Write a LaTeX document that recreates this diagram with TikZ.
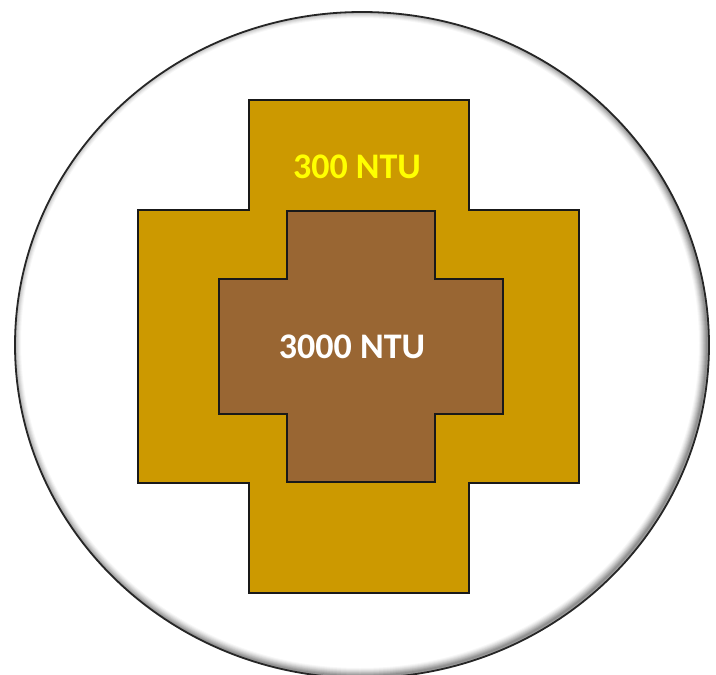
\documentclass[tikz,border=0pt]{standalone}
\usepackage{fontspec}
\setmainfont{Carlito}
\definecolor{gold}{HTML}{CC9900}
\definecolor{brownin}{HTML}{996633}
\definecolor{txtyellow}{HTML}{FFFF00}
\begin{document}
\begin{tikzpicture}[x=1pt,y=-1pt,
  crossline/.style={draw=black!90,line width=1.4pt,line join=miter},
  lbl/.style={font=\fontsize{36}{40}\selectfont\bfseries,inner sep=0pt}]
\useasboundingbox (0,0) rectangle (716,675);
\fill[white] (0,0) rectangle (716,675);
% dish
\fill[white] (362,345) ellipse [x radius=347, y radius=333];
\begin{scope}
  \clip (362,345) ellipse [x radius=347, y radius=333];
  \foreach \i/\o in {1/0.10,2/0.09,3/0.08,4/0.07,5/0.06,6/0.05,7/0.04,8/0.03}{
    \draw[black,opacity=\o,line width={2*\i pt}] (362-2,345-2) ellipse [x radius=347, y radius=333];
  }
\end{scope}
\draw[black!85,line width=1.8pt] (362,345) ellipse [x radius=347, y radius=333];
% outer cross
\path[crossline,fill=gold] (249,100) -- (469,100) -- (469,210) -- (579,210) -- (579,483)
  -- (469,483) -- (469,593) -- (249,593) -- (249,483) -- (138,483) -- (138,210)
  -- (249,210) -- cycle;
% inner cross
\path[crossline,fill=brownin] (287,211) -- (435,211) -- (435,279) -- (503,279) -- (503,414)
  -- (435,414) -- (435,482) -- (287,482) -- (287,414) -- (219,414) -- (219,279)
  -- (287,279) -- cycle;
\node[lbl,text=txtyellow] (outer) at (357,167) {300 NTU};
\node[lbl,text=white] (inner) at (352,347) {3000 NTU};
\end{tikzpicture}
\end{document}
